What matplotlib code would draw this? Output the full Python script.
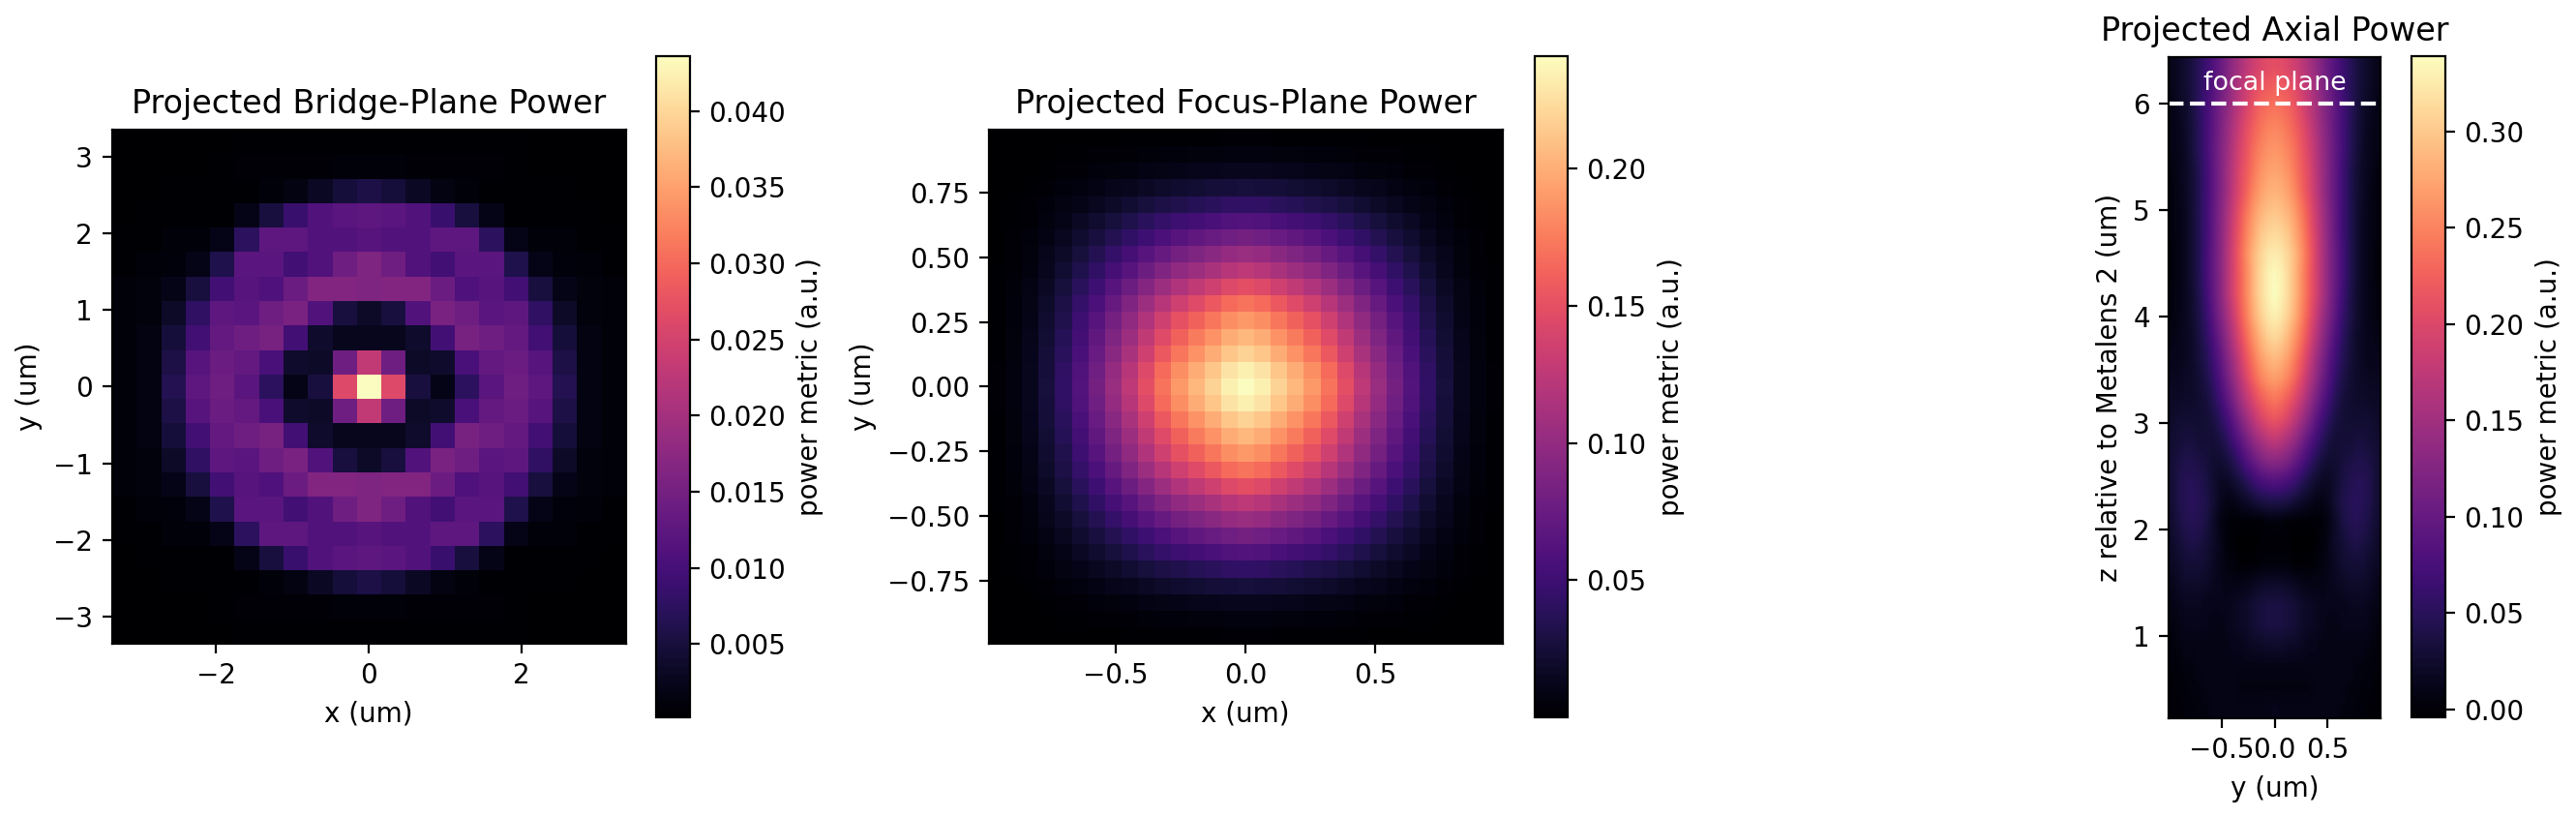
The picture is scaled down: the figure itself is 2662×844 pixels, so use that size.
import numpy as np
import matplotlib
matplotlib.use("Agg")
import matplotlib.pyplot as plt

# ---- bridge plane (21 x 21 cells, values in 1e-3 a.u.), top row = +y ----
bridge_extent = 3.36
bridge_power_milli = [
    [0.2, 0.2, 0.2, 0.2, 0.3, 0.4, 0.4, 0.4, 0.4, 0.4, 0.4, 0.4, 0.4, 0.4, 0.4, 0.4, 0.4, 0.3, 0.2, 0.2, 0.2],
    [0.2, 0.3, 0.3, 0.3, 0.5, 0.7, 0.7, 0.8, 0.8, 0.9, 0.9, 0.9, 0.8, 0.8, 0.7, 0.7, 0.5, 0.3, 0.3, 0.3, 0.2],
    [0.3, 0.3, 0.4, 0.4, 0.4, 0.4, 0.9, 1.7, 3.1, 4.8, 5.7, 4.8, 3.1, 1.7, 0.9, 0.4, 0.4, 0.4, 0.4, 0.3, 0.3],
    [0.3, 0.4, 0.4, 0.4, 0.4, 2.2, 5.2, 8.7, 11.3, 12.2, 12.6, 12.2, 11.3, 8.7, 5.2, 2.2, 0.4, 0.4, 0.4, 0.4, 0.3],
    [0.4, 0.4, 0.9, 0.9, 2.2, 7.4, 12.6, 12.6, 11.3, 11.3, 11.8, 11.3, 11.3, 12.6, 12.6, 7.4, 2.2, 0.9, 0.9, 0.4, 0.4],
    [0.4, 0.9, 1.1, 2.2, 6.1, 12.2, 12.2, 9.6, 11.3, 14.4, 16.1, 14.4, 11.3, 9.6, 12.2, 12.2, 6.1, 2.2, 1.1, 0.9, 0.4],
    [0.9, 1.3, 2.2, 5.2, 9.6, 11.8, 10.9, 14.0, 16.6, 16.6, 16.1, 16.6, 16.6, 14.0, 10.9, 11.8, 9.6, 5.2, 2.2, 1.3, 0.9],
    [0.9, 1.3, 3.5, 7.8, 12.6, 12.2, 14.4, 15.7, 11.3, 5.2, 3.5, 5.2, 11.3, 15.7, 14.4, 12.2, 12.6, 7.8, 3.5, 1.3, 0.9],
    [0.9, 1.7, 4.8, 9.6, 13.1, 14.4, 15.3, 9.6, 3.9, 2.6, 2.6, 2.6, 3.9, 9.6, 15.3, 14.4, 13.1, 9.6, 4.8, 1.7, 0.9],
    [0.9, 1.7, 5.7, 11.8, 14.0, 13.1, 10.5, 3.9, 3.5, 14.4, 23.1, 14.4, 3.5, 3.9, 10.5, 13.1, 14.0, 11.8, 5.7, 1.7, 0.9],
    [0.9, 1.7, 6.5, 12.6, 14.4, 12.2, 7.4, 2.2, 5.2, 26.2, 43.6, 26.2, 5.2, 2.2, 7.4, 12.2, 14.4, 12.6, 6.5, 1.7, 0.9],
    [0.9, 1.7, 5.7, 11.8, 14.0, 13.1, 10.5, 3.9, 3.5, 14.4, 23.1, 14.4, 3.5, 3.9, 10.5, 13.1, 14.0, 11.8, 5.7, 1.7, 0.9],
    [0.9, 1.7, 4.8, 9.6, 13.1, 14.4, 15.3, 9.6, 3.9, 2.6, 2.6, 2.6, 3.9, 9.6, 15.3, 14.4, 13.1, 9.6, 4.8, 1.7, 0.9],
    [0.9, 1.3, 3.5, 7.8, 12.6, 12.2, 14.4, 15.7, 11.3, 5.2, 3.5, 5.2, 11.3, 15.7, 14.4, 12.2, 12.6, 7.8, 3.5, 1.3, 0.9],
    [0.9, 1.3, 2.2, 5.2, 9.6, 11.8, 10.9, 14.0, 16.6, 16.6, 16.1, 16.6, 16.6, 14.0, 10.9, 11.8, 9.6, 5.2, 2.2, 1.3, 0.9],
    [0.4, 0.9, 1.1, 2.2, 6.1, 12.2, 12.2, 9.6, 11.3, 14.4, 16.1, 14.4, 11.3, 9.6, 12.2, 12.2, 6.1, 2.2, 1.1, 0.9, 0.4],
    [0.4, 0.4, 0.9, 0.9, 2.2, 7.4, 12.6, 12.6, 11.3, 11.3, 11.8, 11.3, 11.3, 12.6, 12.6, 7.4, 2.2, 0.9, 0.9, 0.4, 0.4],
    [0.3, 0.4, 0.4, 0.4, 0.4, 2.2, 5.2, 8.7, 11.3, 12.2, 12.6, 12.2, 11.3, 8.7, 5.2, 2.2, 0.4, 0.4, 0.4, 0.4, 0.3],
    [0.3, 0.3, 0.4, 0.4, 0.4, 0.4, 0.9, 1.7, 3.1, 4.8, 5.7, 4.8, 3.1, 1.7, 0.9, 0.4, 0.4, 0.4, 0.4, 0.3, 0.3],
    [0.2, 0.3, 0.3, 0.3, 0.5, 0.7, 0.7, 0.8, 0.8, 0.9, 0.9, 0.9, 0.8, 0.8, 0.7, 0.7, 0.5, 0.3, 0.3, 0.3, 0.2],
    [0.2, 0.2, 0.2, 0.2, 0.3, 0.4, 0.4, 0.4, 0.4, 0.4, 0.4, 0.4, 0.4, 0.4, 0.4, 0.4, 0.4, 0.3, 0.2, 0.2, 0.2],
]

# ---- focus plane: measured x / y line cuts through the spot (31 cells) ----
focus_extent = 0.992
focus_cut_x = [0.002, 0.007, 0.014, 0.027, 0.043, 0.063, 0.082, 0.104, 0.125, 0.149, 0.171,
               0.190, 0.205, 0.219, 0.234, 0.241, 0.234, 0.219, 0.205, 0.190, 0.171, 0.149,
               0.125, 0.104, 0.082, 0.063, 0.043, 0.027, 0.014, 0.007, 0.002]
focus_cut_y = [0.002, 0.007, 0.014, 0.027, 0.043, 0.063, 0.082, 0.104, 0.125, 0.149, 0.171,
               0.190, 0.205, 0.219, 0.234, 0.241, 0.234, 0.219, 0.205, 0.190, 0.171, 0.149,
               0.125, 0.104, 0.082, 0.063, 0.043, 0.027, 0.014, 0.007, 0.002]

# ---- axial slice: left half (y = -0.97 .. 0), rows from z = 6.34 down to 0.33 ----
axial_y_extent = 0.992
axial_z_range = (0.23, 6.44)
focal_z = 6.0
axial_half = [
    [0.013, 0.020, 0.027, 0.037, 0.051, 0.065, 0.082, 0.099, 0.119, 0.140, 0.157, 0.174, 0.188, 0.198, 0.205, 0.209],
    [0.013, 0.020, 0.027, 0.037, 0.051, 0.068, 0.085, 0.106, 0.126, 0.150, 0.171, 0.188, 0.205, 0.216, 0.222, 0.226],
    [0.010, 0.017, 0.023, 0.037, 0.054, 0.071, 0.092, 0.113, 0.133, 0.157, 0.178, 0.198, 0.216, 0.229, 0.236, 0.240],
    [0.010, 0.013, 0.023, 0.034, 0.051, 0.071, 0.092, 0.116, 0.140, 0.164, 0.188, 0.209, 0.226, 0.240, 0.250, 0.253],
    [0.010, 0.013, 0.020, 0.034, 0.051, 0.071, 0.095, 0.119, 0.143, 0.171, 0.195, 0.216, 0.236, 0.250, 0.260, 0.264],
    [0.006, 0.013, 0.020, 0.030, 0.047, 0.068, 0.092, 0.119, 0.147, 0.174, 0.202, 0.222, 0.243, 0.260, 0.270, 0.274],
    [0.006, 0.010, 0.020, 0.030, 0.047, 0.068, 0.092, 0.119, 0.147, 0.178, 0.205, 0.229, 0.253, 0.270, 0.281, 0.284],
    [0.006, 0.010, 0.017, 0.030, 0.047, 0.068, 0.095, 0.123, 0.154, 0.185, 0.216, 0.243, 0.267, 0.284, 0.294, 0.298],
    [0.006, 0.010, 0.017, 0.030, 0.047, 0.068, 0.095, 0.126, 0.157, 0.192, 0.222, 0.253, 0.277, 0.298, 0.308, 0.312],
    [0.003, 0.010, 0.017, 0.030, 0.047, 0.071, 0.099, 0.126, 0.161, 0.195, 0.229, 0.260, 0.288, 0.308, 0.322, 0.325],
    [0.003, 0.010, 0.017, 0.030, 0.047, 0.071, 0.099, 0.126, 0.161, 0.195, 0.226, 0.257, 0.288, 0.312, 0.329, 0.336],
    [0.006, 0.010, 0.017, 0.027, 0.044, 0.068, 0.095, 0.126, 0.161, 0.195, 0.226, 0.257, 0.288, 0.312, 0.329, 0.339],
    [0.006, 0.010, 0.017, 0.027, 0.041, 0.061, 0.089, 0.119, 0.150, 0.185, 0.219, 0.250, 0.281, 0.305, 0.322, 0.329],
    [0.010, 0.013, 0.017, 0.023, 0.037, 0.054, 0.078, 0.106, 0.137, 0.171, 0.205, 0.236, 0.264, 0.288, 0.305, 0.312],
    [0.013, 0.013, 0.017, 0.023, 0.034, 0.047, 0.068, 0.092, 0.123, 0.154, 0.188, 0.219, 0.246, 0.270, 0.284, 0.291],
    [0.017, 0.017, 0.020, 0.023, 0.030, 0.041, 0.058, 0.082, 0.109, 0.140, 0.171, 0.202, 0.229, 0.250, 0.264, 0.270],
    [0.020, 0.020, 0.023, 0.023, 0.027, 0.034, 0.047, 0.068, 0.092, 0.119, 0.150, 0.178, 0.202, 0.222, 0.236, 0.243],
    [0.023, 0.027, 0.027, 0.027, 0.027, 0.030, 0.037, 0.051, 0.071, 0.095, 0.123, 0.150, 0.174, 0.195, 0.209, 0.216],
    [0.027, 0.030, 0.034, 0.034, 0.030, 0.030, 0.030, 0.037, 0.051, 0.071, 0.092, 0.116, 0.140, 0.157, 0.171, 0.178],
    [0.030, 0.037, 0.041, 0.041, 0.037, 0.034, 0.027, 0.027, 0.034, 0.047, 0.065, 0.085, 0.102, 0.119, 0.130, 0.133],
    [0.030, 0.041, 0.047, 0.047, 0.044, 0.037, 0.027, 0.020, 0.020, 0.027, 0.037, 0.051, 0.065, 0.075, 0.082, 0.085],
    [0.030, 0.041, 0.047, 0.051, 0.047, 0.041, 0.030, 0.017, 0.010, 0.010, 0.017, 0.023, 0.030, 0.037, 0.041, 0.041],
    [0.027, 0.037, 0.044, 0.047, 0.044, 0.037, 0.023, 0.010, 0.003, -0.001, -0.001, -0.001, -0.001, -0.001, 0.003, 0.003],
    [0.023, 0.030, 0.037, 0.041, 0.037, 0.030, 0.023, 0.013, 0.003, -0.001, -0.004, -0.004, -0.004, -0.001, -0.001, -0.001],
    [0.020, 0.023, 0.030, 0.030, 0.030, 0.027, 0.020, 0.013, 0.006, 0.003, -0.001, -0.001, -0.001, 0.003, 0.003, 0.003],
    [0.013, 0.020, 0.023, 0.023, 0.023, 0.020, 0.017, 0.013, 0.010, 0.010, 0.010, 0.013, 0.017, 0.020, 0.023, 0.023],
    [0.010, 0.013, 0.017, 0.017, 0.017, 0.013, 0.013, 0.013, 0.013, 0.017, 0.020, 0.023, 0.030, 0.034, 0.037, 0.037],
    [0.006, 0.010, 0.013, 0.013, 0.013, 0.013, 0.010, 0.010, 0.013, 0.017, 0.020, 0.023, 0.030, 0.034, 0.037, 0.037],
    [0.003, 0.006, 0.010, 0.010, 0.010, 0.010, 0.010, 0.010, 0.010, 0.013, 0.013, 0.017, 0.020, 0.020, 0.023, 0.023],
    [0.003, 0.003, 0.006, 0.006, 0.010, 0.010, 0.010, 0.010, 0.010, 0.010, 0.010, 0.010, 0.010, 0.010, 0.010, 0.010],
    [-0.001, 0.003, 0.003, 0.006, 0.006, 0.010, 0.010, 0.010, 0.010, 0.010, 0.006, 0.006, 0.006, 0.006, 0.006, 0.006],
    [-0.001, -0.001, 0.003, 0.003, 0.006, 0.006, 0.010, 0.010, 0.010, 0.010, 0.010, 0.010, 0.010, 0.010, 0.010, 0.013],
]

W, H, DPI = 2662, 844, 200


def px_rect(x0, y0, x1, y1):
    # pixel box (top-left origin) -> figure fraction rect
    return [x0 / W, 1 - y1 / H, (x1 - x0) / W, (y1 - y0) / H]


fig = plt.figure(figsize=(W / DPI, H / DPI), dpi=DPI)
cmap = "magma"

# panel 1
ax1 = fig.add_axes(px_rect(115, 134, 647, 665))
cax1 = fig.add_axes(px_rect(678, 58, 713, 741))
bridge = np.array(bridge_power_milli) * 1e-3
e = bridge_extent
im1 = ax1.imshow(bridge, cmap=cmap, origin="upper", extent=[-e, e, -e, e],
                 interpolation="nearest", aspect="equal")
ax1.set_xticks([-2, 0, 2])
ax1.set_yticks([-3, -2, -1, 0, 1, 2, 3])
ax1.set_title("Projected Bridge-Plane Power")
ax1.set_xlabel("x (um)")
ax1.set_ylabel("y (um)")
cb1 = fig.colorbar(im1, cax=cax1)
cb1.set_ticks([0.005, 0.010, 0.015, 0.020, 0.025, 0.030, 0.035, 0.040])
cb1.set_label("power metric (a.u.)")

# panel 2
ax2 = fig.add_axes(px_rect(1021, 134, 1553, 665))
cax2 = fig.add_axes(px_rect(1586, 58, 1620, 741))
cx = np.array(focus_cut_x)
cy = np.array(focus_cut_y)
focus = np.outer(cy, cx) / cx.max()
f = focus_extent
im2 = ax2.imshow(focus, cmap=cmap, origin="lower", extent=[-f, f, -f, f],
                 interpolation="nearest", aspect="equal")
ax2.set_xticks([-0.5, 0.0, 0.5])
ax2.set_yticks([-0.75, -0.5, -0.25, 0.0, 0.25, 0.5, 0.75])
ax2.set_title("Projected Focus-Plane Power")
ax2.set_xlabel("x (um)")
ax2.set_ylabel("y (um)")
cb2 = fig.colorbar(im2, cax=cax2)
cb2.set_ticks([0.05, 0.10, 0.15, 0.20])
cb2.set_label("power metric (a.u.)")

# panel 3
ax3 = fig.add_axes(px_rect(2240, 59, 2461, 742))
cax3 = fig.add_axes(px_rect(2492, 58, 2527, 741))
half = np.array(axial_half)
axial = np.hstack([half, half[:, -2::-1]])
a = axial_y_extent
im3 = ax3.imshow(axial, cmap=cmap, origin="upper",
                 extent=[-a, a, axial_z_range[0], axial_z_range[1]],
                 interpolation="bilinear", aspect="equal")
ax3.axhline(focal_z, color="white", ls="--", lw=1.5)
ax3.text(0.0, focal_z + 0.08, "focal plane", color="white", ha="center",
         va="bottom", fontsize=9.7)
ax3.set_xticks([-0.5, 0.0, 0.5])
ax3.set_yticks([1, 2, 3, 4, 5, 6])
ax3.set_title("Projected Axial Power")
ax3.set_xlabel("y (um)")
ax3.set_ylabel("z relative to Metalens 2 (um)")
cb3 = fig.colorbar(im3, cax=cax3)
cb3.set_ticks([0.00, 0.05, 0.10, 0.15, 0.20, 0.25, 0.30])
cb3.set_label("power metric (a.u.)")

fig.savefig("out.png", dpi=DPI)
